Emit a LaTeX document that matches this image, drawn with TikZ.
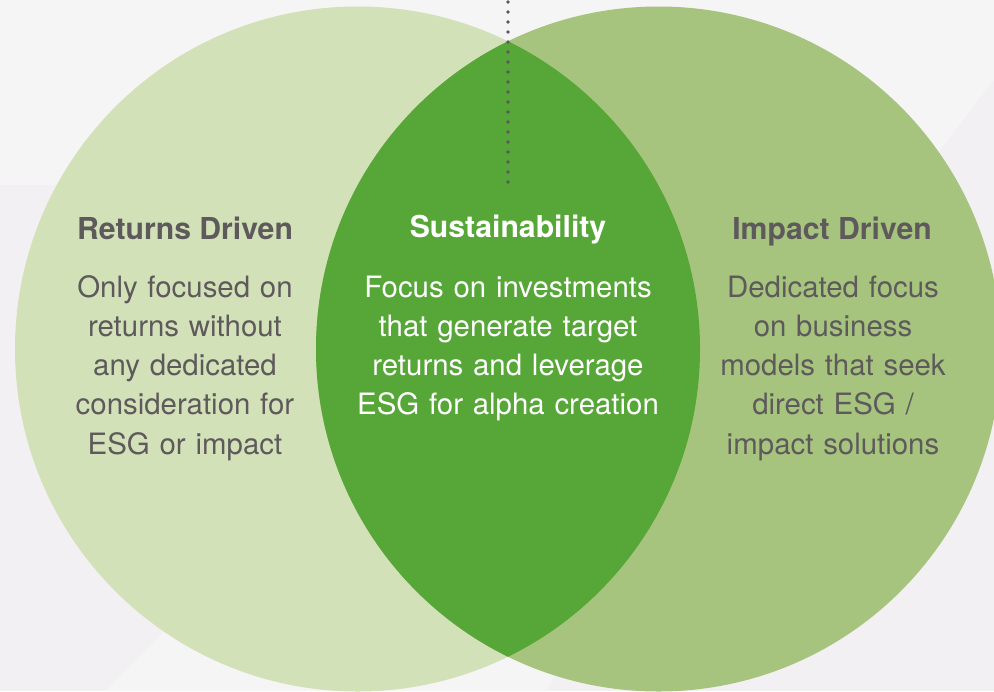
\documentclass[tikz,border=0pt]{standalone}
\usepackage{fontspec}
\setmainfont{TeX Gyre Heros}
\usetikzlibrary{positioning}

\definecolor{bgtop}{HTML}{F5F5F5}
\definecolor{bgbase}{HTML}{F2F0F2}
\definecolor{returnsgreen}{HTML}{D3E1B8}
\definecolor{impactgreen}{HTML}{A7C47E}
\definecolor{sustaingreen}{HTML}{56A737}
\definecolor{textgrey}{HTML}{5E5A5C}
\definecolor{dotgrey}{HTML}{5A5560}

\begin{document}
\begin{tikzpicture}[x=0.5pt,y=-0.5pt]
\tikzstyle{heading}=[anchor=base,inner sep=0pt,font=\fontsize{15.1}{19.65}\selectfont\bfseries]
\tikzstyle{body}=[anchor=base,inner sep=0pt,align=center,text width=130pt,font=\fontsize{14.7}{19.65}\selectfont]
\tikzstyle{dots}=[dotgrey,line width=1.8pt,line cap=round,dash pattern=on 0pt off 5pt]

\useasboundingbox (0,0) rectangle (994,691);

% background
\fill[bgbase] (0,0) rectangle (994,691);
\fill[bgtop] (0,0) -- (994,0) -- (994,80) -- (870,240) -- (300,185) -- (0,185) -- cycle;
\fill[bgtop] (105,691) -- (330,466) -- (640,480) -- (547,691) -- cycle;

% circles
\coordinate (ret_c) at (357.5,349);
\coordinate (imp_c) at (658.5,349);
\fill[returnsgreen] (ret_c) circle[radius=342.5];
\fill[impactgreen] (imp_c) circle[radius=342.5];
\begin{scope}
  \clip (ret_c) circle[radius=342.5];
  \fill[sustaingreen] (imp_c) circle[radius=342.5];
\end{scope}

% dotted marker
\coordinate (dot_top) at (508,2);
\coordinate (dot_end) at (508,183);
\draw[dots] (dot_top) -- (dot_end);

% texts
\node[heading,textgrey] (ret_head) at (185,239) {Returns Driven};
\node[body,textgrey] (ret_text) at (185,297) {Only focused on\\returns without\\any dedicated\\consideration for\\ESG or impact};

\node[heading,white] (sus_head) at (508,237) {Sustainability};
\node[body,white,text width=160pt] (sus_text) at (508,297) {Focus on investments\\that generate target\\returns and leverage\\ESG for alpha creation};

\node[heading,textgrey] (imp_head) at (832,239) {Impact Driven};
\node[body,textgrey] (imp_text) at (833,297) {Dedicated focus\\on business\\models that seek\\direct ESG /\\impact solutions};
\end{tikzpicture}
\end{document}
